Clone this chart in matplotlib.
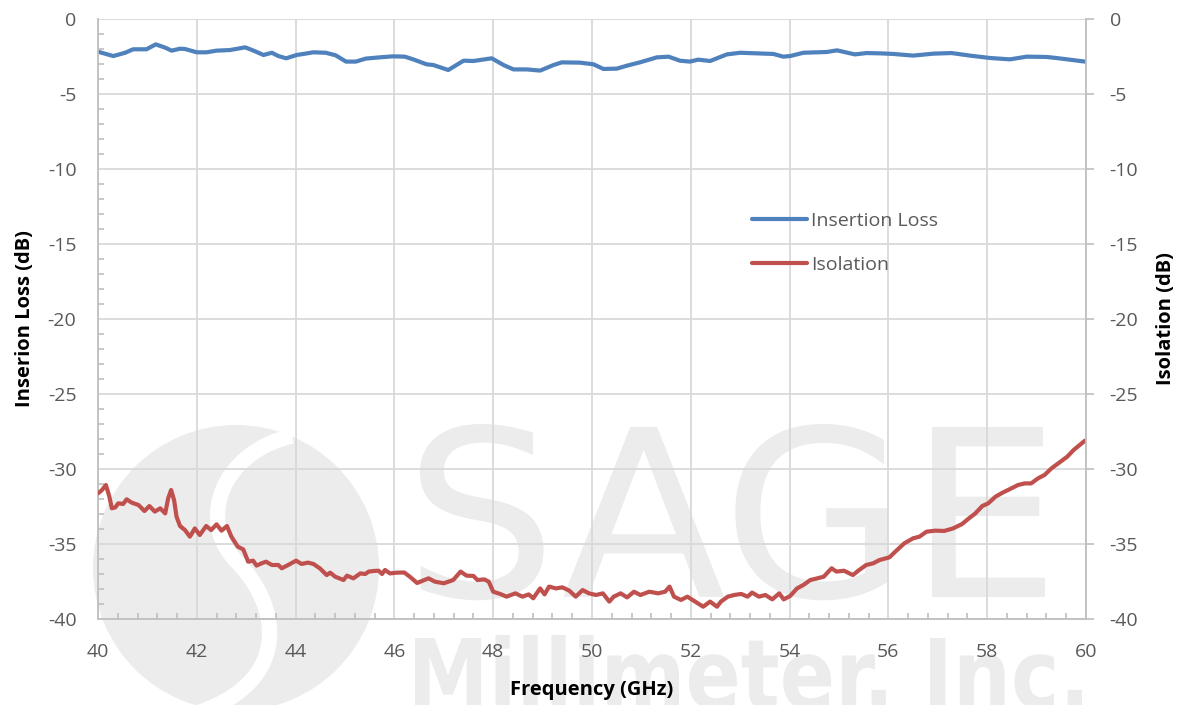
import numpy as np
import matplotlib
matplotlib.use("Agg")
import matplotlib.pyplot as plt
from matplotlib.ticker import MultipleLocator
from matplotlib.textpath import TextPath
from matplotlib.patches import PathPatch, Circle
from matplotlib.font_manager import FontProperties
from matplotlib.path import Path
from matplotlib.transforms import Affine2D

plt.rcParams['font.family'] = ['Open Sans', 'DejaVu Sans']
plt.rcParams['axes.unicode_minus'] = False

# ---------------- data ----------------
il_freq = [40.0, 40.31, 40.55, 40.71, 40.98, 41.17, 41.36, 41.49, 41.66, 41.76,
           42.0, 42.2, 42.4, 42.67, 42.98, 43.15, 43.35, 43.52, 43.65, 43.81,
           44.02, 44.16, 44.36, 44.61, 44.81, 45.02, 45.22, 45.42, 45.69, 45.96,
           46.21, 46.38, 46.65, 46.79, 47.09, 47.4, 47.6, 47.97, 48.21, 48.41,
           48.68, 48.95, 49.22, 49.39, 49.76, 50.03, 50.23, 50.5, 50.71, 50.97,
           51.31, 51.55, 51.78, 51.98, 52.15, 52.39, 52.73, 53.0, 53.33, 53.67,
           53.87, 54.01, 54.28, 54.75, 54.96, 55.32, 55.56, 55.83, 56.1, 56.5,
           56.91, 57.28, 57.65, 58.06, 58.46, 58.8, 59.2, 59.4, 59.98]
il_db = [-2.18, -2.47, -2.25, -2.02, -2.02, -1.69, -1.91, -2.11, -1.98, -2.0,
         -2.22, -2.22, -2.11, -2.07, -1.89, -2.11, -2.4, -2.25, -2.47, -2.62,
         -2.4, -2.33, -2.22, -2.25, -2.42, -2.84, -2.84, -2.64, -2.56, -2.49,
         -2.51, -2.69, -3.02, -3.07, -3.4, -2.78, -2.8, -2.62, -3.07, -3.36,
         -3.36, -3.44, -3.07, -2.89, -2.91, -3.02, -3.33, -3.31, -3.11, -2.89,
         -2.56, -2.51, -2.78, -2.84, -2.71, -2.8, -2.36, -2.25, -2.29, -2.33,
         -2.51, -2.47, -2.25, -2.2, -2.09, -2.36, -2.27, -2.29, -2.33, -2.44,
         -2.31, -2.27, -2.44, -2.6, -2.69, -2.51, -2.53, -2.6, -2.84]

iso_freq = [40.0, 40.07, 40.16, 40.23, 40.28, 40.35, 40.41, 40.51, 40.58, 40.68,
            40.82, 40.94, 41.04, 41.15, 41.26, 41.36, 41.42, 41.48, 41.54, 41.59,
            41.66, 41.76, 41.86, 41.96, 42.06, 42.19, 42.29, 42.4, 42.5, 42.61,
            42.7, 42.83, 42.94, 43.04, 43.14, 43.21, 43.31, 43.4, 43.52, 43.65,
            43.72, 43.85, 44.01, 44.12, 44.25, 44.36, 44.49, 44.63, 44.7, 44.8,
            44.97, 45.04, 45.17, 45.31, 45.41, 45.48, 45.58, 45.68, 45.75, 45.81,
            45.91, 46.05, 46.2, 46.32, 46.46, 46.69, 46.82, 47.0, 47.19, 47.34,
            47.46, 47.6, 47.68, 47.82, 47.91, 48.0, 48.14, 48.27, 48.45, 48.59,
            48.72, 48.81, 48.95, 49.04, 49.13, 49.27, 49.4, 49.54, 49.67, 49.81,
            49.94, 50.08, 50.22, 50.35, 50.44, 50.58, 50.71, 50.85, 50.98, 51.16,
            51.34, 51.48, 51.57, 51.66, 51.8, 51.93, 52.07, 52.25, 52.39, 52.53,
            52.61, 52.75, 52.88, 53.02, 53.15, 53.24, 53.38, 53.51, 53.65, 53.79,
            53.88, 54.01, 54.15, 54.28, 54.42, 54.56, 54.69, 54.85, 54.95, 55.1,
            55.28, 55.41, 55.55, 55.69, 55.82, 56.02, 56.14, 56.32, 56.5, 56.63,
            56.77, 56.95, 57.13, 57.31, 57.49, 57.63, 57.76, 57.9, 58.02, 58.17,
            58.31, 58.49, 58.62, 58.76, 58.89, 59.03, 59.16, 59.3, 59.44, 59.62,
            59.75, 59.98]
iso_db = [-31.62, -31.44, -31.07, -31.84, -32.62, -32.56, -32.29, -32.33, -32.02, -32.24,
          -32.4, -32.8, -32.47, -32.84, -32.62, -32.96, -31.96, -31.4, -32.07, -33.18,
          -33.8, -34.07, -34.51, -33.96, -34.4, -33.8, -34.07, -33.69, -34.11, -33.8,
          -34.51, -35.18, -35.36, -36.18, -36.11, -36.44, -36.29, -36.18, -36.4, -36.4,
          -36.62, -36.4, -36.11, -36.33, -36.24, -36.33, -36.62, -37.07, -36.91, -37.18,
          -37.4, -37.11, -37.29, -36.96, -37.0, -36.84, -36.8, -36.78, -37.0, -36.73,
          -36.96, -36.91, -36.9, -37.2, -37.6, -37.29, -37.51, -37.62, -37.4, -36.84,
          -37.11, -37.13, -37.4, -37.36, -37.51, -38.18, -38.33, -38.51, -38.29, -38.51,
          -38.36, -38.62, -37.96, -38.36, -37.84, -37.96, -37.89, -38.11, -38.51, -38.07,
          -38.29, -38.4, -38.29, -38.84, -38.51, -38.29, -38.56, -38.18, -38.4, -38.18,
          -38.29, -38.18, -37.84, -38.51, -38.73, -38.51, -38.8, -39.18, -38.84, -39.18,
          -38.84, -38.51, -38.4, -38.33, -38.51, -38.24, -38.51, -38.4, -38.69, -38.29,
          -38.69, -38.47, -37.96, -37.73, -37.4, -37.29, -37.18, -36.62, -36.84, -36.78,
          -37.07, -36.73, -36.4, -36.29, -36.07, -35.89, -35.51, -34.96, -34.62, -34.51,
          -34.18, -34.11, -34.13, -33.96, -33.67, -33.29, -32.96, -32.47, -32.29, -31.84,
          -31.58, -31.29, -31.07, -30.96, -30.96, -30.62, -30.4, -29.96, -29.62, -29.18,
          -28.73, -28.11]

x_ticks = [40, 42, 44, 46, 48, 50, 52, 54, 56, 58, 60]
y_ticks = [-40, -35, -30, -25, -20, -15, -10, -5, 0]
series_names = ['Insertion Loss', 'Isolation']

# ---------------- figure ----------------
W, H = 1182, 705
fig = plt.figure(figsize=(W / 100, H / 100), dpi=100)
fig.patch.set_facecolor('white')

# watermark layer (pixel coordinates)
bg = fig.add_axes([0, 0, 1, 1])
bg.set_xlim(0, W)
bg.set_ylim(H, 0)
bg.axis('off')
bg.set_zorder(-5)
wm = '#ececec'
bg.add_patch(Circle((236, 568), 143, facecolor=wm, edgecolor='none'))
s_path = Path([(292, 436), (222, 452), (196, 520), (237, 562),
               (280, 605), (292, 680), (200, 712)],
              [Path.MOVETO, Path.CURVE4, Path.CURVE4, Path.CURVE4,
               Path.CURVE4, Path.CURVE4, Path.CURVE4])
bg.add_patch(PathPatch(s_path, facecolor='none', edgecolor='white', lw=11))


def wm_text(s, x0, x1, y_top, y_base, weight):
    fp = FontProperties(family='DejaVu Sans', weight=weight)
    tp = TextPath((0, 0), s, size=1, prop=fp)
    cap = TextPath((0, 0), 'I', size=1, prop=fp).get_extents().y1
    ext = tp.get_extents()
    sx = (x1 - x0) / ext.width
    k = (y_base - y_top) / cap
    tr = Affine2D().translate(-ext.x0, 0).scale(sx, -k).translate(x0, y_base) + bg.transData
    bg.add_patch(PathPatch(tp, facecolor=wm, edgecolor='none', transform=tr))


wm_text('SAGE', 420, 1045, 427, 597, 'normal')
wm_text('Millimeter, Inc.', 415, 1082, 638, 708, 'bold')

# main axes
ax = fig.add_axes([98 / W, (H - 619) / H, 988 / W, 600 / H])
ax.patch.set_visible(False)
ax.set_xlim(40, 60)
ax.set_ylim(-40, 0)
ax.set_xticks(x_ticks)
ax.set_yticks(y_ticks)
ax.xaxis.set_minor_locator(MultipleLocator(0.4))
ax.yaxis.set_minor_locator(MultipleLocator(1))
ax.grid(True, which='major', color='#d9d9d9', lw=1.3)
ax.set_axisbelow(True)
for side in ['top', 'right']:
    ax.spines[side].set_visible(False)
for side in ['left', 'bottom']:
    ax.spines[side].set_color('#bfbfbf')
    ax.spines[side].set_linewidth(1.3)
ax.tick_params(which='major', length=0, labelsize=14, labelcolor='#595959')
ax.tick_params(axis='y', which='major', pad=15.5)
ax.tick_params(axis='x', which='major', pad=17)
ax.tick_params(which='minor', direction='in', length=4.5, width=1.2, color='#bfbfbf')

l1, = ax.plot(il_freq, il_db, color='#4F81BD', lw=3, solid_joinstyle='round',
              solid_capstyle='round', label=series_names[0])

ax2 = ax.twinx()
ax2.set_ylim(-40, 0)
ax2.set_yticks(y_ticks)
for side in ['top', 'left', 'bottom']:
    ax2.spines[side].set_visible(False)
ax2.spines['right'].set_color('#bfbfbf')
ax2.spines['right'].set_linewidth(1.3)
ax2.tick_params(axis='y', which='major', length=6, width=1.2, color='#bfbfbf',
                labelsize=14, labelcolor='#595959', pad=11)
l2, = ax2.plot(iso_freq, iso_db, color='#C0504D', lw=3, solid_joinstyle='round',
               solid_capstyle='round', label=series_names[1])

ax.set_xlabel('Frequency (GHz)', fontsize=14.5, fontweight='bold', color='black')
ax.xaxis.set_label_coords(0.5, -0.102)
ax.set_ylabel('Inserion Loss (dB)', fontsize=14.5, fontweight='bold', color='black')
ax.yaxis.set_label_coords(-0.064, 0.5)
ax2.set_ylabel('Isolation (dB)', fontsize=14.5, fontweight='bold', color='black')
ax2.yaxis.set_label_coords(1.071, 0.5)

leg = ax2.legend(handles=[l1, l2], loc='upper left', bbox_to_anchor=(0.662, 0.678),
                 frameon=False, fontsize=14, handlelength=2.8, handletextpad=0.25,
                 labelspacing=1.32, borderpad=0, borderaxespad=0)
for t in leg.get_texts():
    t.set_color('#595959')

fig.savefig('out.png', dpi=100)
